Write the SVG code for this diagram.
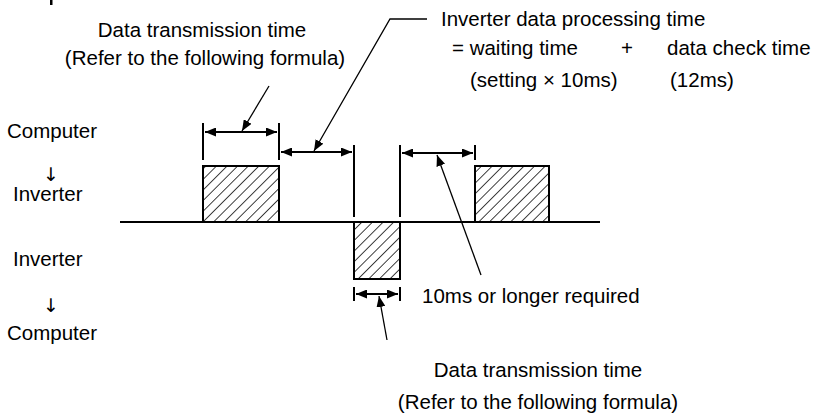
<svg xmlns="http://www.w3.org/2000/svg" width="814" height="414" viewBox="0 0 814 414">
  <style>
    text { font-family: "Liberation Sans", Arial, sans-serif; font-size: 20.5px; fill: #000; }
    .mid { text-anchor: middle; }
    .arrow { font-family: "DejaVu Sans", sans-serif; font-size: 19px; }
    .line { stroke: #000; stroke-width: 2; fill: none; }
    .lead { stroke: #000; stroke-width: 1.3; fill: none; }
    .dim { stroke: #000; stroke-width: 2; fill: none; marker-start: url(#head); marker-end: url(#head); }
    .block { fill: url(#hatch); stroke: #000; stroke-width: 2; }
  </style>
  <defs>
    <pattern id="hatch" patternUnits="userSpaceOnUse" width="7.5" height="10" patternTransform="rotate(45)">
      <line x1="0" y1="0" x2="0" y2="10" stroke="#000" stroke-width="1.5"/>
    </pattern>
    <marker id="head" markerUnits="userSpaceOnUse" markerWidth="11" markerHeight="9" refX="11" refY="4.5" orient="auto-start-reverse">
      <path d="M0,0 L11,4.5 L0,9 z" fill="#000"/>
    </marker>
    <marker id="tip" markerUnits="userSpaceOnUse" markerWidth="11" markerHeight="9" refX="11" refY="4.5" orient="auto">
      <path d="M0,0 L11,4.5 L0,9 z" fill="#000"/>
    </marker>
  </defs>

  <!-- clipped title stroke at the top edge -->
  <rect x="50" y="0" width="2.5" height="5" fill="#000"/>

  <!-- direction labels -->
  <g id="labels-left">
    <text x="7" y="138">Computer</text>
    <text x="51" y="181" class="mid arrow">↓&#xFE0E;</text>
    <text x="13" y="201">Inverter</text>
    <text x="13" y="266">Inverter</text>
    <text x="51" y="312" class="mid arrow">↓&#xFE0E;</text>
    <text x="7" y="340">Computer</text>
  </g>

  <!-- time axis -->
  <line id="axis" class="line" x1="120" y1="222" x2="600" y2="222"/>

  <!-- transmission blocks -->
  <g id="tx-computer-1"><rect class="block" x="203" y="166" width="76" height="56"/></g>
  <g id="tx-inverter"><rect class="block" x="354" y="222" width="46" height="57"/></g>
  <g id="tx-computer-2"><rect class="block" x="475" y="166" width="74" height="56"/></g>

  <!-- dimension ticks and leaders -->
  <g id="connectors">
    <path class="line" d="M203,123 V160 M279,123 V160 M354,145 V217 M400,145 V217 M475,145 V160 M354,287 V301 M400,287 V301"/>
    <line class="dim" x1="205" y1="132" x2="277" y2="132"/>
    <line class="dim" x1="281" y1="152" x2="352" y2="152"/>
    <line class="dim" x1="402" y1="153" x2="473" y2="153"/>
    <line class="dim" x1="356" y1="294" x2="398" y2="294"/>
    <line class="lead" x1="269" y1="86" x2="242" y2="131" marker-end="url(#tip)"/>
    <polyline class="lead" points="427,19 390,19 314,151" marker-end="url(#tip)"/>
    <line class="lead" x1="481" y1="275" x2="437" y2="155" marker-end="url(#tip)"/>
    <line class="lead" x1="387" y1="340" x2="379" y2="296" marker-end="url(#tip)"/>
  </g>

  <!-- annotations -->
  <g id="note-tx-top">
    <text x="202" y="37" class="mid">Data transmission time</text>
    <text x="205" y="65" class="mid">(Refer to the following formula)</text>
  </g>
  <g id="note-processing">
    <text x="441" y="26">Inverter data processing time</text>
    <text x="452" y="55">= waiting time</text>
    <text x="627" y="55" class="mid">+</text>
    <text x="667" y="55">data check time</text>
    <text x="470" y="87">(setting × 10ms)</text>
    <text x="670" y="87">(12ms)</text>
  </g>
  <g id="note-interval">
    <text x="422" y="303">10ms or longer required</text>
  </g>
  <g id="note-tx-bottom">
    <text x="538" y="377" class="mid">Data transmission time</text>
    <text x="538" y="409" class="mid">(Refer to the following formula)</text>
  </g>
</svg>
